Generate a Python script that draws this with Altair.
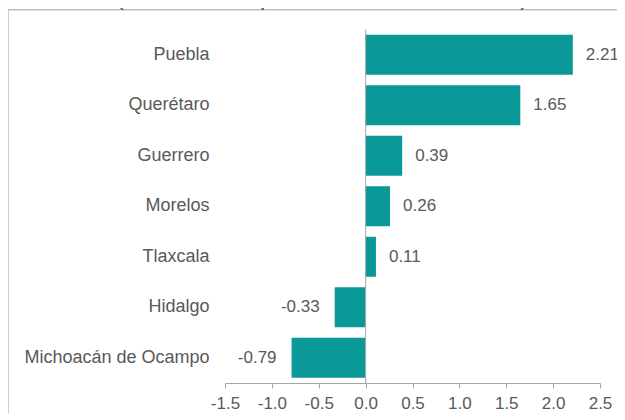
import altair as alt
import pandas as pd

states = ["Puebla", "Querétaro", "Guerrero", "Morelos", "Tlaxcala", "Hidalgo", "Michoacán de Ocampo"]
values = [2.21, 1.65, 0.39, 0.26, 0.11, -0.33, -0.79]
x_ticks = [-1.5, -1.0, -0.5, 0.0, 0.5, 1.0, 1.5, 2.0, 2.5]
title_text = "(contribución porcentual a la variación)"

df = pd.DataFrame({"estado": states, "valor": values})
df["etiqueta"] = [f"{v:.2f}" for v in values]

FONT = "Liberation Sans"
TXT = "#595959"
GRAY = "#a6a6a6"
W, H = 375, 353.5

base = alt.Chart(df)

yenc = alt.Y("estado:N", sort=states, title=None,
             scale=alt.Scale(paddingInner=0.208, paddingOuter=0.104),
             axis=alt.Axis(domain=False, ticks=False, labelPadding=16, labelFontSize=18,
                           labelColor=TXT, labelFont=FONT, labelLimit=400))
xenc = alt.X("valor:Q", title=None,
             scale=alt.Scale(domain=[-1.5, 2.5], nice=False, zero=False),
             axis=alt.Axis(values=x_ticks, format=".1f", grid=False, domainColor=GRAY,
                           tickColor=GRAY, tickSize=5, labelPadding=7, labelFontSize=17,
                           labelColor=TXT, labelFont=FONT, labelFlush=False,
                           labelOverlap=False, labelBound=False,
                           labelExpr="replace(datum.label, '\u2212', '-')"))

bars = base.mark_bar(color="#0a9898").encode(x=xenc, x2=alt.datum(0), y=yenc)

zero_rule = alt.Chart(alt.Data(values=[{}])).mark_rule(color=GRAY, strokeWidth=1).encode(
    x=alt.datum(0), y=alt.value(0), y2=alt.value(H))

pos_labels = base.transform_filter("datum.valor >= 0").mark_text(
    align="left", baseline="middle", dx=13, fontSize=17, font=FONT, color=TXT
).encode(x="valor:Q", y=alt.Y("estado:N", sort=states), text="etiqueta:N")

neg_labels = base.transform_filter("datum.valor < 0").mark_text(
    align="right", baseline="middle", dx=-15, fontSize=17, font=FONT, color=TXT
).encode(x="valor:Q", y=alt.Y("estado:N", sort=states), text="etiqueta:N")

frame = alt.Chart(alt.Data(values=[{}])).mark_rect(
    fill=None, stroke="#a0a0a0", strokeWidth=1, clip=False
).encode(x=alt.value(-217), x2=alt.value(800), y=alt.value(-19.7), y2=alt.value(800))

title = alt.Chart(alt.Data(values=[{"t": title_text}])).mark_text(
    align="center", baseline="alphabetic", fontSize=24, font=FONT, color=TXT, clip=False
).encode(x=alt.value(97), y=alt.value(-24.2), text="t:N")

chart = alt.layer(frame, title, bars, zero_rule, pos_labels, neg_labels).properties(
    width=W, height=H,
    autosize=alt.AutoSizeParams(type="none"),
    padding={"left": 217, "top": 21.5, "right": 17, "bottom": 31},
).configure_view(stroke=None)

chart.save("out.html", embed_options={"renderer": "svg", "actions": False})
